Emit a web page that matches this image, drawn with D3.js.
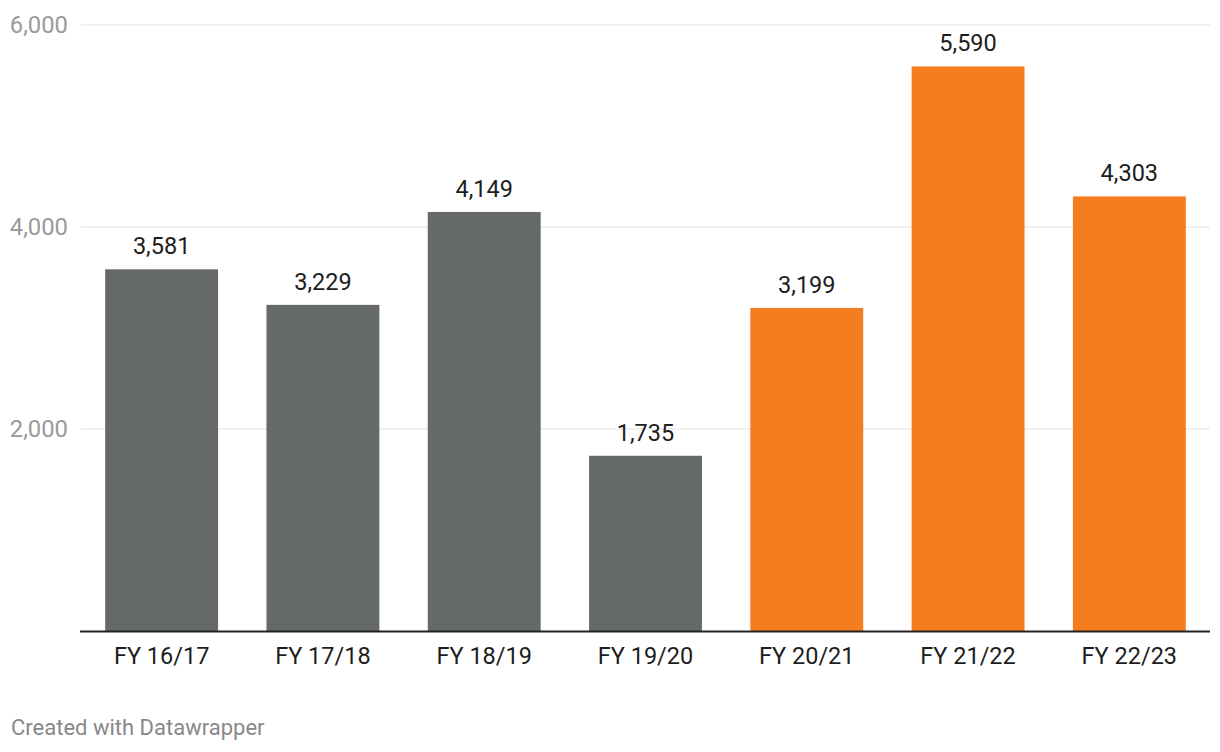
<!DOCTYPE html>
<html><head><meta charset="utf-8">
<script src="https://cdn.jsdelivr.net/npm/d3@7"></script>
<style>body{margin:0;background:#fff;}svg{display:block;font-family:Roboto,sans-serif;}</style>
</head><body>
<svg id="c" width="1220" height="752"></svg>
<script>
const categories = ["FY 16/17","FY 17/18","FY 18/19","FY 19/20","FY 20/21","FY 21/22","FY 22/23"];
const values = [3581,3229,4149,1735,3199,5590,4303];
const barColors = ["#656969","#656969","#656969","#656969","#f47d20","#f47d20","#f47d20"];
const yTicks = [2000,4000,6000];

const svg = d3.select("#c");
const x = d3.scaleBand().domain(categories).range([81,1210]).paddingInner(0.3).paddingOuter(0.15);
const y = d3.scaleLinear().domain([0,6000]).range([631,25]);
const fmt = d3.format(",");

// gridlines
svg.append("g").selectAll("line").data(yTicks).join("line")
  .attr("x1",81).attr("x2",1210).attr("y1",d=>y(d)).attr("y2",d=>y(d))
  .attr("stroke","#e3e3e3").attr("stroke-width",1);
svg.append("g").selectAll("text").data(yTicks).join("text")
  .attr("x",68).attr("y",d=>y(d)+7.5).attr("text-anchor","end")
  .attr("fill","#9a9a9a").attr("font-size",23.8).text(d=>fmt(d));

// bars
svg.append("g").selectAll("rect").data(values).join("rect")
  .attr("x",(d,i)=>x(categories[i])).attr("width",x.bandwidth())
  .attr("y",d=>y(d)).attr("height",d=>y(0)-y(d))
  .attr("fill",(d,i)=>barColors[i]);

// value labels
svg.append("g").selectAll("text").data(values).join("text")
  .attr("x",(d,i)=>x(categories[i])+x.bandwidth()/2).attr("y",d=>y(d)-15)
  .attr("text-anchor","middle").attr("fill","#1d1d1d").attr("font-size",23.5).text(d=>fmt(d));

// baseline
svg.append("line").attr("x1",80).attr("x2",1210).attr("y1",y(0)+0.5).attr("y2",y(0)+0.5)
  .attr("stroke","#222").attr("stroke-width",2);

// x axis labels
svg.append("g").selectAll("text").data(categories).join("text")
  .attr("x",d=>x(d)+x.bandwidth()/2).attr("y",663.5)
  .attr("text-anchor","middle").attr("fill","#1d1d1d").attr("font-size",23.5).text(d=>d);

svg.append("text").attr("x",11).attr("y",735)
  .attr("fill","#888").attr("font-size",22).text("Created with Datawrapper");
</script>
</body></html>
